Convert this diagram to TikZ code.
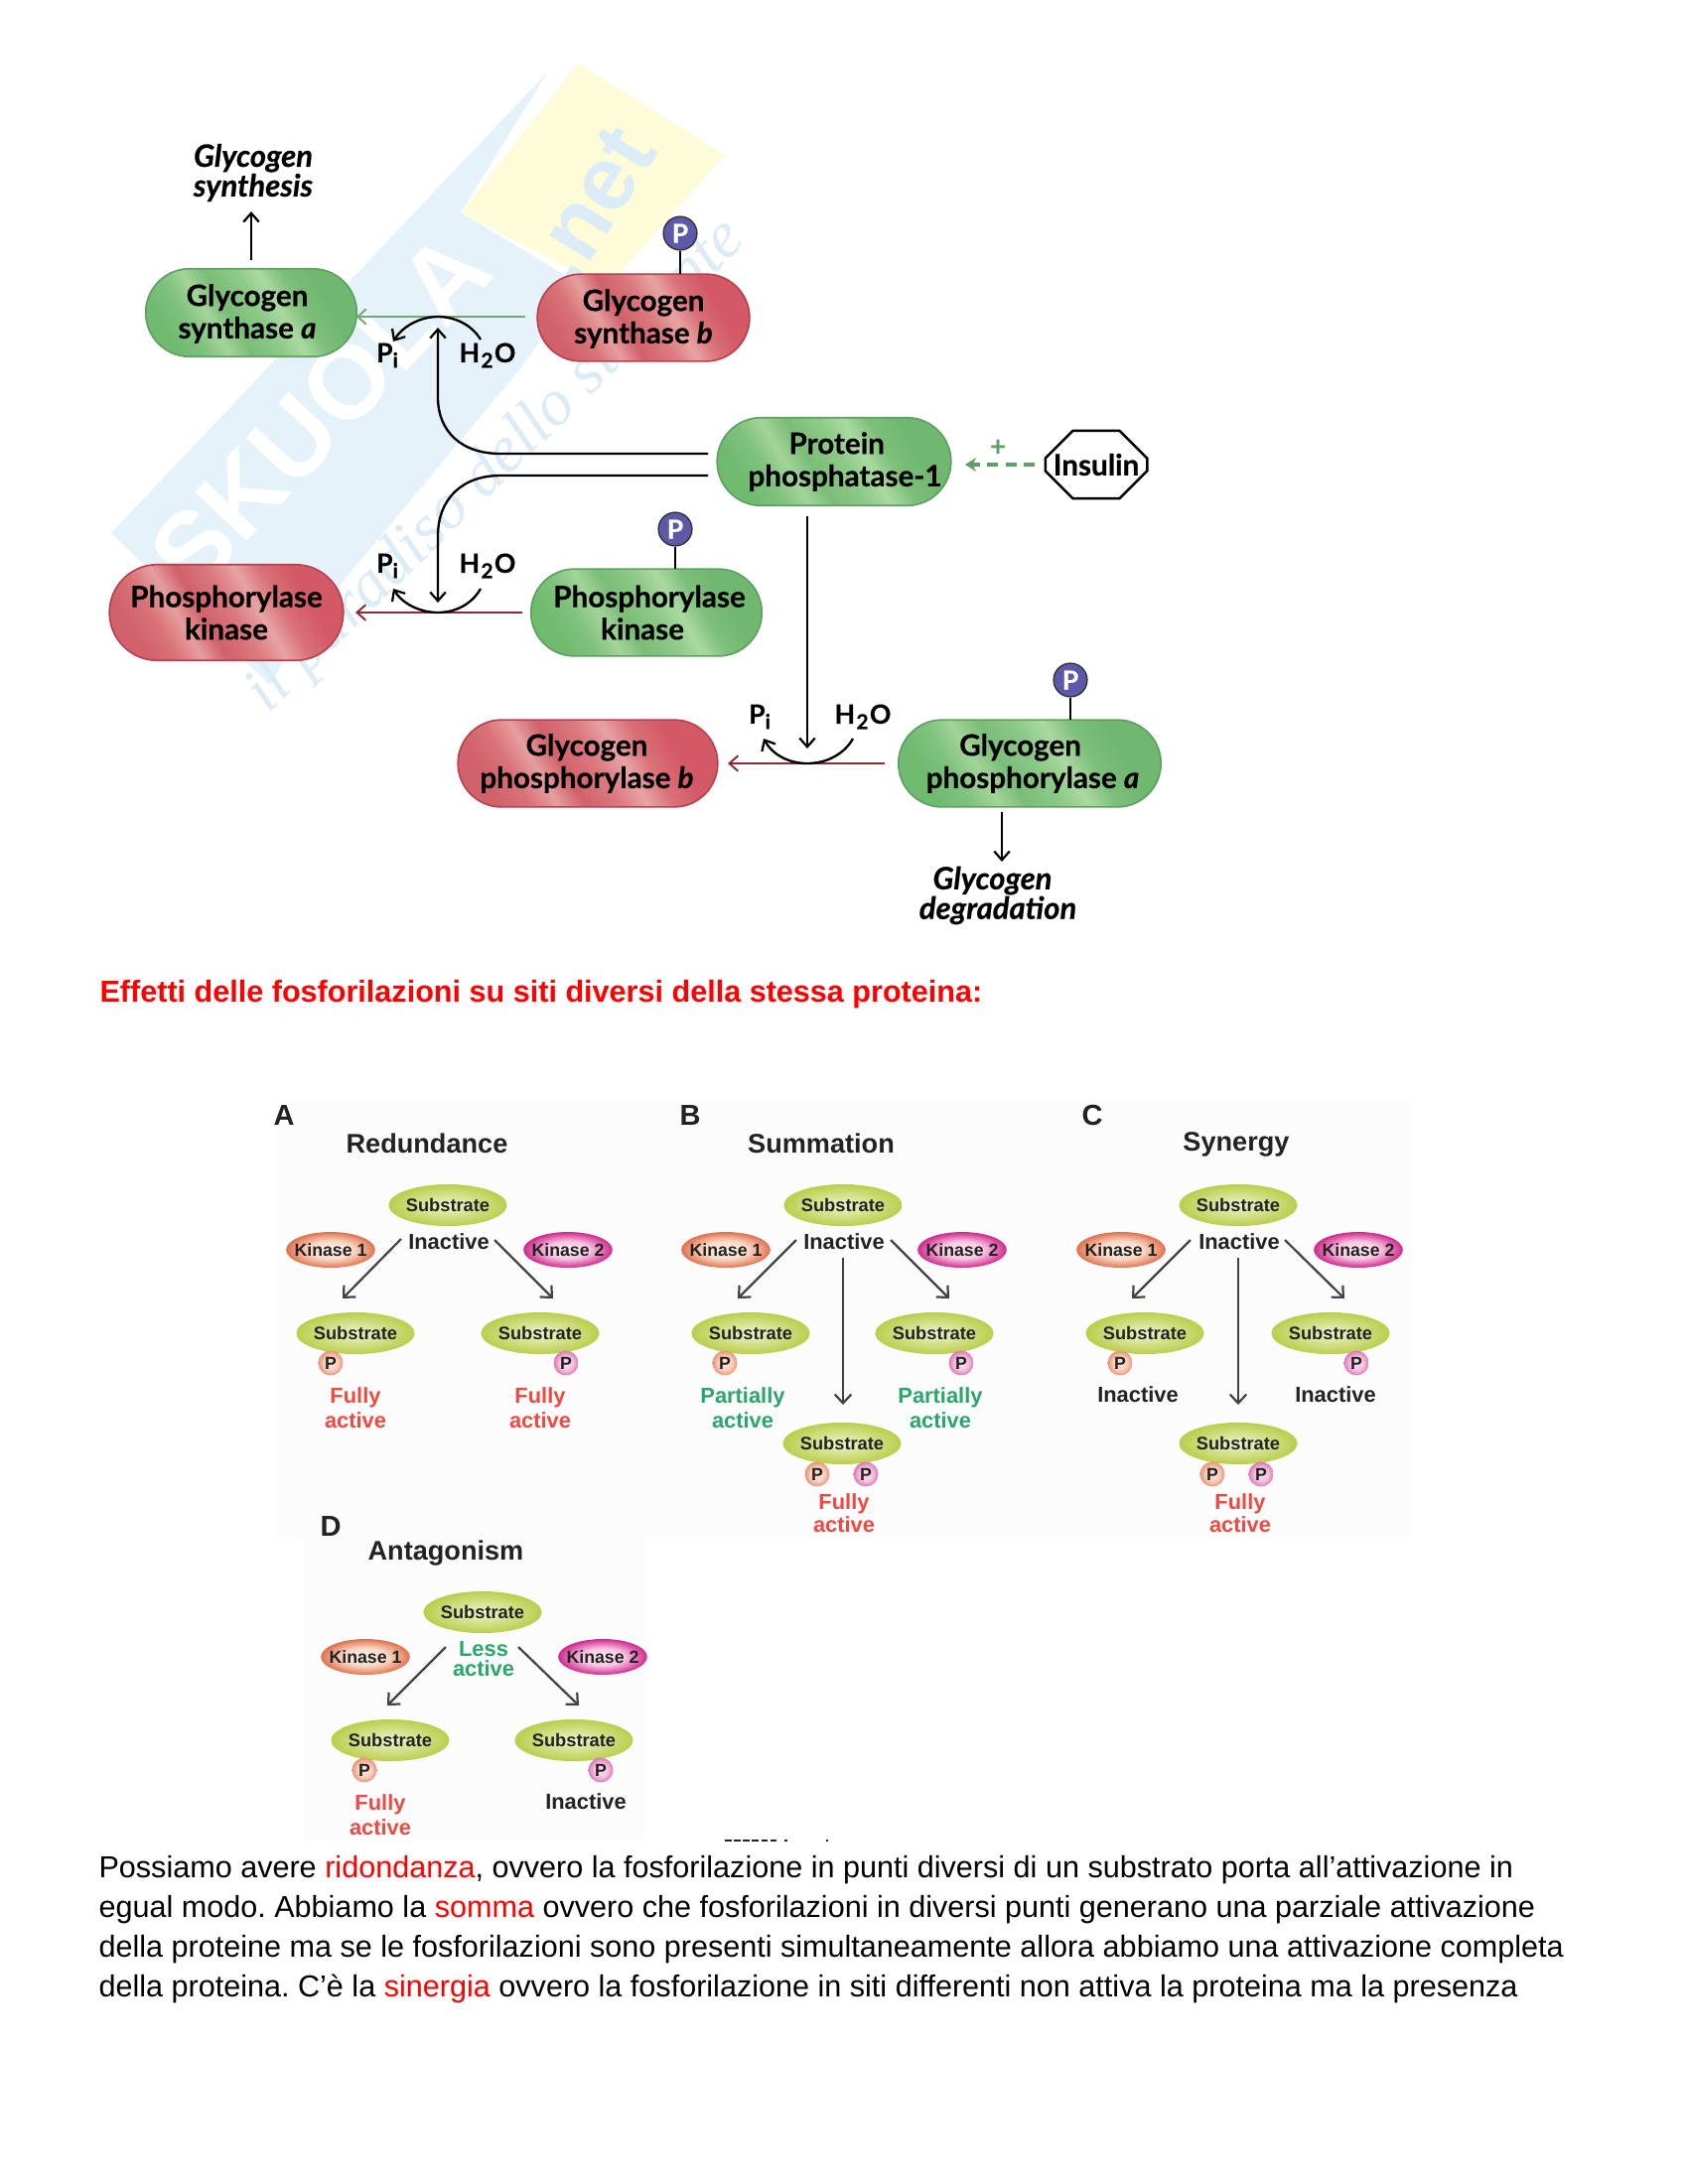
\documentclass[tikz,border=0pt]{standalone}
\usepackage{fontspec}
\setmainfont{Liberation Sans}
\newfontfamily\lato[BoldFeatures={FakeBold=0.5},BoldItalicFeatures={FakeBold=0.5}]{Lato}
\newfontfamily\wmserif{Liberation Serif}
\usetikzlibrary{arrows.meta,shapes.misc,shapes.geometric,calc}
\definecolor{pillgreenedge}{HTML}{5E9F62}
\definecolor{pillrededge}{HTML}{B8404F}
\definecolor{wmblue}{HTML}{E6F2F9}
\definecolor{wmblue2}{HTML}{DCECF6}
\definecolor{wmyellow}{HTML}{FDFBD8}
\definecolor{arrowgreen}{HTML}{6FA871}
\definecolor{arrowred}{HTML}{8E2A33}
\definecolor{dashgreen}{HTML}{5E9F62}
\definecolor{phos}{HTML}{5D59A8}
\definecolor{subout}{HTML}{BACE4C}
\definecolor{subin}{HTML}{EFF4CC}
\definecolor{faired}{HTML}{EE4A42}
\definecolor{pagreen}{HTML}{2BA56B}
\definecolor{dark}{HTML}{222222}
\definecolor{panelbg}{HTML}{FCFCFC}
\pgfdeclarehorizontalshading{greenpill}{100bp}{rgb(0bp)=(.44,.73,.44);rgb(25bp)=(.44,.73,.44);rgb(32bp)=(.50,.76,.49);rgb(38bp)=(.64,.83,.60);rgb(44bp)=(.48,.74,.47);rgb(52bp)=(.55,.79,.53);rgb(58bp)=(.67,.85,.63);rgb(64bp)=(.49,.75,.48);rgb(71bp)=(.44,.72,.44);rgb(100bp)=(.44,.72,.44)}
\pgfdeclarehorizontalshading{redpill}{100bp}{rgb(0bp)=(.82,.38,.42);rgb(25bp)=(.82,.38,.42);rgb(32bp)=(.85,.45,.47);rgb(38bp)=(.90,.62,.62);rgb(44bp)=(.82,.38,.42);rgb(52bp)=(.86,.48,.50);rgb(58bp)=(.91,.64,.64);rgb(64bp)=(.85,.44,.47);rgb(71bp)=(.83,.35,.40);rgb(100bp)=(.83,.35,.40)}
\pgfdeclareradialshading{kaS}{\pgfpoint{0bp}{0bp}}{rgb(0bp)=(.99,.94,.90);rgb(12bp)=(.98,.86,.80);rgb(20bp)=(.93,.62,.50);rgb(25bp)=(.87,.44,.31);rgb(50bp)=(.87,.44,.31)}
\pgfdeclareradialshading{kbS}{\pgfpoint{0bp}{0bp}}{rgb(0bp)=(.99,.92,.96);rgb(12bp)=(.97,.78,.89);rgb(20bp)=(.88,.40,.68);rgb(25bp)=(.81,.16,.55);rgb(50bp)=(.81,.16,.55)}
\pgfdeclareradialshading{paS}{\pgfpoint{0bp}{0bp}}{rgb(0bp)=(.99,.90,.85);rgb(14bp)=(.97,.82,.75);rgb(25bp)=(.91,.58,.46);rgb(50bp)=(.91,.58,.46)}
\pgfdeclareradialshading{pbS}{\pgfpoint{0bp}{0bp}}{rgb(0bp)=(.98,.88,.94);rgb(14bp)=(.95,.76,.88);rgb(25bp)=(.87,.47,.72);rgb(50bp)=(.87,.47,.72)}
\tikzset{
  pill/.style={rounded rectangle,line width=.6pt},
  greenp/.style={pill,draw=pillgreenedge,shading=greenpill,shading angle=30},
  redp/.style={pill,draw=pillrededge,shading=redpill,shading angle=30},
  ptext/.style={font=\lato\bfseries\fontsize{10.7}{11.8}\selectfont,align=center,text=black,inner sep=0pt},
  itext/.style={font=\lato\bfseries\itshape\fontsize{11.2}{10.8}\selectfont,align=center,text=black,inner sep=0pt},
  chem/.style={font=\lato\bfseries\fontsize{9.6}{11}\selectfont,text=black,inner sep=0pt},
  phosc/.style={circle,draw=black!80,line width=.5pt,fill=phos,text=white,font=\lato\bfseries\fontsize{9.5}{10}\selectfont,minimum size=12.2pt,inner sep=0pt},
  blk/.style={line width=.85pt,draw=black,-{Straight Barb[length=3.2pt,width=5.6pt,line width=.8pt]}},
  blkplain/.style={line width=.85pt,draw=black},
  grn/.style={line width=.75pt,draw=arrowgreen,-{Straight Barb[length=3pt,width=5.6pt,line width=.7pt]}},
  redarr/.style={line width=.75pt,draw=arrowred,-{Straight Barb[length=3.2pt,width=5.6pt,line width=.7pt]}},
  subs/.style={ellipse,inner color=subin,outer color=subout,minimum width=41.8pt,minimum height=15.2pt,inner sep=0pt,font=\bfseries\fontsize{6.6}{7}\selectfont,text=dark},
  kina/.style={ellipse,shading=kaS,minimum width=32.4pt,minimum height=13pt,inner sep=0pt,font=\bfseries\fontsize{6.4}{7}\selectfont,text=dark},
  kinb/.style={ellipse,shading=kbS,minimum width=32.4pt,minimum height=13pt,inner sep=0pt,font=\bfseries\fontsize{6.4}{7}\selectfont,text=dark},
  pa/.style={circle,shading=paS,minimum size=9pt,inner sep=0pt,font=\bfseries\fontsize{6.4}{7}\selectfont,text=dark},
  pb/.style={circle,shading=pbS,minimum size=9pt,inner sep=0pt,font=\bfseries\fontsize{6.4}{7}\selectfont,text=dark},
  ptitle/.style={font=\bfseries\fontsize{9.8}{10}\selectfont,text=dark,inner sep=0pt},
  pletter/.style={font=\bfseries\fontsize{10.5}{11}\selectfont,text=dark,inner sep=0pt},
  state/.style={font=\bfseries\fontsize{7.9}{9}\selectfont,align=center,inner sep=0pt},
  pan/.style={draw=dark!85,line width=.8pt,-{Straight Barb[length=3.2pt,width=6pt,line width=.8pt]}},
  bodyl/.style={anchor=base west,font=\fontsize{11.05}{14}\selectfont\frenchspacing,inner sep=0pt,text=black}
}
\newcommand{\panarrow}[5]{\coordinate (#1s) at (#2,#3);\coordinate (#1e) at (#4,#5);\draw[pan] (#1s) -- (#1e);}
\newcommand{\rw}[1]{\textcolor{red}{#1}}
\newcommand{\subi}{\raisebox{-2pt}{\fontsize{7.5}{8}\selectfont i}}
\newcommand{\subtwo}{\kern.5pt\raisebox{-2pt}{\fontsize{7.5}{8}\selectfont 2}\kern.5pt}
\newcommand{\kone}{\makebox[0pt]{Kinase 1}}
\newcommand{\ktwo}{\makebox[0pt]{Kinase 2}}
\begin{document}
\begin{tikzpicture}[x=0.36bp,y=-0.36bp]
\fill[white] (0,0) rectangle (1700,2200);
\useasboundingbox (0,0) rectangle (1700,2200);
% watermark
\fill[wmyellow] (582,64) -- (730,156) -- (611,290) -- (464,214) -- cycle;
\fill[wmblue] (112,537) -- (552,72) -- (464,214) -- (584,286) -- (525,370) -- (300,640) -- (272,690) -- cycle;
\node[rotate=47,text=white,font=\bfseries\fontsize{38}{38}\selectfont,inner sep=0pt] (wmsk) at (322,415) {SKUOLA};
\node[rotate=58,text=wmblue2,font=\bfseries\fontsize{33}{33}\selectfont,inner sep=0pt] (wmnet) at (596,206) {.net};
\node[rotate=44.6,text=wmblue2,font=\wmserif\itshape\fontsize{24}{24}\selectfont,inner sep=0pt] (wmsl) at (500,470) {il paradiso dello studente};
% pills
\node[greenp,minimum width=83.5pt,minimum height=32pt] (syna) at (253,315) {};
\node[ptext] (synat) at (249,316) {Glycogen\\synthase \textit{a}};
\node[redp,minimum width=83.9pt,minimum height=31.7pt] (synb) at (648,320) {};
\node[ptext] (synbt) at (648,321) {Glycogen\\synthase \textit{b}};
\node[redp,minimum width=91.8pt,minimum height=34.9pt] (pkr) at (228,617) {};
\node[ptext] (pkrt) at (228,617) {Phosphorylase\\kinase};
\node[greenp,minimum width=90.7pt,minimum height=31.7pt] (pkg) at (651,617) {};
\node[ptext] (pkgt) at (654,617) {Phosphorylase\\kinase\hspace*{5pt}};
\node[greenp,minimum width=91.8pt,minimum height=32pt] (pp) at (840,465) {};
\node[ptext] (ppt) at (851,465) {Protein\hspace*{6pt}\\phosphatase-1};
\node[redp,minimum width=101.2pt,minimum height=31.7pt] (gpb) at (592,769) {};
\node[ptext] (gpbt) at (591,769) {Glycogen\\phosphorylase \textit{b}};
\node[greenp,minimum width=102.2pt,minimum height=31.7pt] (gpa) at (1037,769) {};
\node[ptext] (gpat) at (1040,769) {Glycogen\hspace*{9pt}\\phosphorylase \textit{a}};
\node[chamfered rectangle,chamfered rectangle xsep=6pt,chamfered rectangle ysep=6pt,draw=black,line width=.9pt,minimum height=24.6pt,inner sep=0pt,font=\lato\bfseries\fontsize{10.7}{12}\selectfont] (ins) at (1104,468) {\makebox[29pt]{Insulin}};
% phospho
\node[phosc] (p1) at (685,235) {P};
\coordinate (p1e) at (685,276);
\draw[blkplain] (p1) -- (p1e);
\node[phosc] (p2) at (680,533) {P};
\coordinate (p2e) at (680,573);
\draw[blkplain] (p2) -- (p2e);
\node[phosc] (p3) at (1078,685) {P};
\coordinate (p3e) at (1078,725);
\draw[blkplain] (p3) -- (p3e);
% labels
\node[itext] (gs) at (255,174) {Glycogen\\synthesis};
\node[itext] (gd) at (1005,902) {Glycogen\hspace*{4pt}\\degradation};
\coordinate (gs1) at (253,262); \coordinate (gs2) at (253,213);
\draw[blk] (gs1) -- (gs2);
\coordinate (gd1) at (1009,818); \coordinate (gd2) at (1009,868);
\draw[blk] (gd1) -- (gd2);
% arrows
\coordinate (ga1) at (529,319); \coordinate (ga2) at (359,319);
\draw[grn] (ga1) -- (ga2);
\coordinate (ra1) at (526,617); \coordinate (ra2) at (358,617);
\draw[redarr] (ra1) -- (ra2);
\coordinate (rb1) at (891,769); \coordinate (rb2) at (733,769);
\draw[redarr] (rb1) -- (rb2);
% arcs
\coordinate (a1r) at (484,342); \coordinate (a1t) at (441,319); \coordinate (a1l) at (396,344);
\draw[blk] (a1r) .. controls (475,327) and (458,319) .. (a1t) .. controls (424,319) and (406,328) .. (a1l);
\coordinate (a2r) at (484,593); \coordinate (a2b) at (441,617); \coordinate (a2l) at (396,593);
\draw[blk] (a2r) .. controls (475,609) and (458,617) .. (a2b) .. controls (424,617) and (406,609) .. (a2l);
\coordinate (a3r) at (859,744); \coordinate (a3b) at (813,769); \coordinate (a3l) at (769,744);
\draw[blk] (a3r) .. controls (850,760) and (832,769) .. (a3b) .. controls (794,769) and (778,760) .. (a3l);
% PP1 connectors
\coordinate (pl1) at (713,457); \coordinate (pl2) at (504,457); \coordinate (pl3) at (441,400); \coordinate (pl4) at (441,330);
\draw[blk] (pl1) -- (pl2) .. controls (465,457) and (441,435) .. (pl3) -- (pl4);
\coordinate (ql1) at (713,479); \coordinate (ql2) at (504,479); \coordinate (ql3) at (441,540); \coordinate (ql4) at (441,607);
\draw[blk] (ql1) -- (ql2) .. controls (465,479) and (441,503) .. (ql3) -- (ql4);
\coordinate (rl1) at (813,520); \coordinate (rl2) at (813,754);
\draw[blk] (rl1) -- (rl2);
\coordinate (il1) at (1042,468); \coordinate (il2) at (972,468);
\draw[line width=1.1pt,draw=dashgreen,dash pattern=on 4pt off 2.6pt,-{Stealth[length=4pt,width=5pt]}] (il1) -- (il2);
\node[font=\lato\bfseries\fontsize{10}{11}\selectfont,text=dashgreen,inner sep=0pt] (plus) at (1005,451) {+};
% chem labels
\node[chem] (pi1) at (390,358) {P\subi};
\node[chem] (hw1) at (491,358) {H\subtwo O};
\node[chem] (pi2) at (390,570) {P\subi};
\node[chem] (hw2) at (491,570) {H\subtwo O};
\node[chem] (pi3) at (765,722) {P\subi};
\node[chem] (hw3) at (869,722) {H\subtwo O};
% title
\node[anchor=base west,font=\bfseries\fontsize{11.05}{14}\selectfont,text=red,inner sep=0pt] (title) at (100,1009) {Effetti delle fosforilazioni su siti diversi della stessa proteina:};
% panel backgrounds
\fill[panelbg] (278,1108) rectangle (1422,1548);
\fill[panelbg] (305,1548) rectangle (650,1855);
% Panel A
\node[pletter] (la) at (286,1123) {A};
\node[ptitle] (ta) at (430,1152) {Redundance};
\node[subs] (as0) at (451,1214) {Substrate};
\node[state,text=dark] (ai) at (452,1251) {Inactive};
\node[kina] (ak1) at (333,1259) {\kone};
\node[kinb] (ak2) at (572,1259) {\ktwo};
\panarrow{aa}{404}{1248}{345}{1308}
\panarrow{ab}{498}{1249}{557}{1308}
\node[subs] (as1) at (358,1343) {Substrate};
\node[subs] (as2) at (544,1343) {Substrate};
\node[pa] (ap1) at (333,1373) {P};
\node[pb] (ap2) at (570,1373) {P};
\node[state,text=faired] (af1) at (358,1418) {Fully\\active};
\node[state,text=faired] (af2) at (544,1418) {Fully\\active};
% Panel B
\node[pletter] (lb) at (695,1123) {B};
\node[ptitle] (tb) at (827,1152) {Summation};
\node[subs] (bs0) at (849,1214) {Substrate};
\node[state,text=dark] (bi) at (850,1251) {Inactive};
\node[kina] (bk1) at (731,1259) {\kone};
\node[kinb] (bk2) at (969,1259) {\ktwo};
\panarrow{ba}{802}{1249}{743}{1308}
\panarrow{bb}{897}{1249}{956}{1308}
\panarrow{bc}{849}{1267}{849}{1415}
\node[subs] (bs1) at (756,1343) {Substrate};
\node[subs] (bs2) at (941,1343) {Substrate};
\node[pa] (bp1) at (730,1373) {P};
\node[pb] (bp2) at (968,1373) {P};
\node[state,text=pagreen] (bf1) at (748,1418) {Partially\\active};
\node[state,text=pagreen] (bf2) at (947,1418) {Partially\\active};
\node[subs] (bs3) at (848,1454) {Substrate};
\node[pa] (bp3) at (823,1485) {P};
\node[pb] (bp4) at (872,1485) {P};
\node[state,text=faired,font=\bfseries\fontsize{7.9}{6.9}\selectfont] (bf3) at (850,1524) {Fully\\active};
% Panel C
\node[pletter] (lc) at (1100,1123) {C};
\node[ptitle] (tc) at (1245,1153) {Synergy};
\node[subs] (cs0) at (1247,1214) {Substrate};
\node[state,text=dark] (ci) at (1248,1251) {Inactive};
\node[kina] (ck1) at (1129,1259) {\kone};
\node[kinb] (ck2) at (1368,1259) {\ktwo};
\panarrow{ca}{1199}{1249}{1140}{1308}
\panarrow{cb}{1294}{1249}{1354}{1308}
\panarrow{cc}{1247}{1267}{1247}{1415}
\node[subs] (cs1) at (1153,1343) {Substrate};
\node[subs] (cs2) at (1340,1343) {Substrate};
\node[pa] (cp1) at (1128,1373) {P};
\node[pb] (cp2) at (1366,1373) {P};
\node[state,text=dark] (cf1) at (1146,1405) {Inactive};
\node[state,text=dark] (cf2) at (1345,1405) {Inactive};
\node[subs] (cs3) at (1247,1454) {Substrate};
\node[pa] (cp3) at (1221,1485) {P};
\node[pb] (cp4) at (1270,1485) {P};
\node[state,text=faired,font=\bfseries\fontsize{7.9}{6.9}\selectfont] (cf3) at (1249,1524) {Fully\\active};
% Panel D
\node[pletter] (ld) at (333,1537) {D};
\node[ptitle] (td) at (449,1565) {Antagonism};
\node[subs] (ds0) at (486,1624) {Substrate};
\node[state,text=pagreen,font=\bfseries\fontsize{7.9}{7.2}\selectfont] (di) at (487,1671) {Less\\active};
\node[kina] (dk1) at (368,1669) {\kone};
\node[kinb] (dk2) at (607,1669) {\ktwo};
\panarrow{da}{449}{1659}{390}{1718}
\panarrow{db}{522}{1659}{583}{1718}
\node[subs] (ds1) at (393,1753) {Substrate};
\node[subs] (ds2) at (578,1753) {Substrate};
\node[pa] (dp1) at (367,1783) {P};
\node[pb] (dp2) at (605,1783) {P};
\node[state,text=faired] (df1) at (383,1828) {Fully\\active};
\node[state,text=dark] (df2) at (590,1815) {Inactive};
% clipped fragment under panel D
\draw[line width=.5pt,dark,dash pattern=on 2.5pt off .8pt] (730,1854) -- (782,1854);
\draw[line width=.5pt,dark,dash pattern=on 1pt off 14pt] (790,1854) -- (835,1854);
% body text
\node[bodyl] (l1) at (99,1891) {Possiamo avere \rw{ridondanza}, ovvero la fosforilazione in punti diversi di un substrato porta all’attivazione in};
\node[bodyl] (l2) at (99,1931) {egual modo. Abbiamo la \rw{somma} ovvero che fosforilazioni in diversi punti generano una parziale attivazione};
\node[bodyl] (l3) at (99,1971) {della proteine ma se le fosforilazioni sono presenti simultaneamente allora abbiamo una attivazione completa};
\node[bodyl] (l4) at (99,2011) {della proteina. C’è la \rw{sinergia} ovvero la fosforilazione in siti differenti non attiva la proteina ma la presenza};
\end{tikzpicture}
\end{document}
